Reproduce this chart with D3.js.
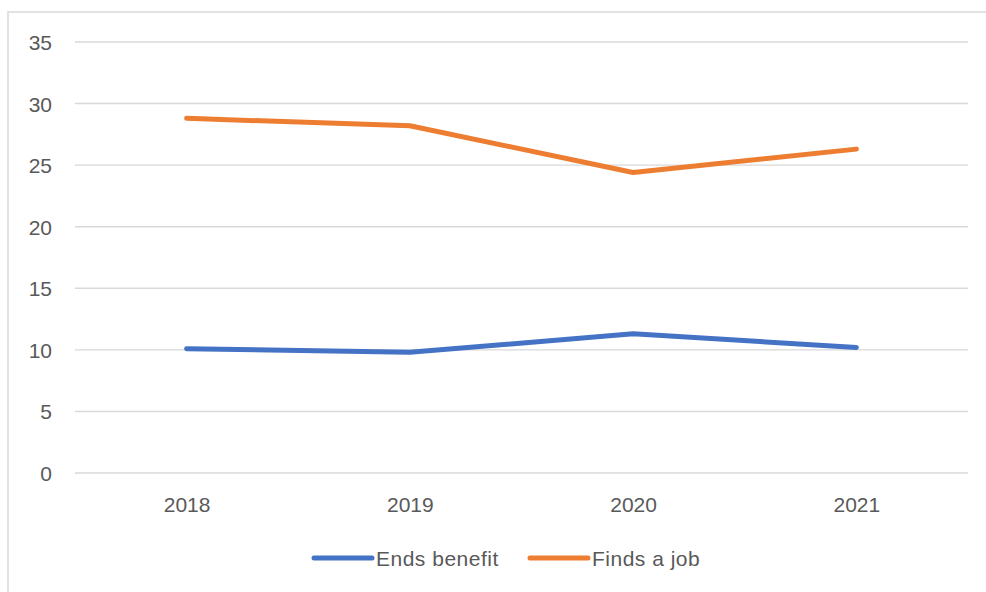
<!DOCTYPE html>
<html>
<head>
<meta charset="utf-8">
<script src="https://cdn.jsdelivr.net/npm/d3@7"></script>
<style>
  html, body { margin: 0; padding: 0; background: #fff; }
  svg { display: block; }
  text { font-family: "Liberation Sans", Arial, sans-serif; fill: #595959; }
</style>
</head>
<body>
<svg id="chart" width="986" height="592"></svg>
<script>
// Data
const years = ["2018", "2019", "2020", "2021"];
const endsBenefit = [10.1, 9.8, 11.3, 10.2];
const findsJob = [28.8, 28.2, 24.4, 26.3];
const yTicks = [0, 5, 10, 15, 20, 25, 30, 35];
const seriesNames = ["Ends benefit", "Finds a job"];
const seriesColors = ["#4472C4", "#ED7D31"];

const series = [
  { name: seriesNames[0], values: endsBenefit, color: seriesColors[0] },
  { name: seriesNames[1], values: findsJob, color: seriesColors[1] }
];

const svg = d3.select("#chart");
const W = 986, H = 592;
const plot = { left: 75, right: 968, top: 42, bottom: 473 };

// chart area frame
svg.append("rect")
  .attr("x", 8).attr("y", 12)
  .attr("width", W + 20).attr("height", H + 20)
  .attr("fill", "#fff")
  .attr("stroke", "#d9d9d9")
  .attr("stroke-width", 1.5);

const x = d3.scalePoint()
  .domain(years)
  .range([plot.left, plot.right])
  .padding(0.5);

const y = d3.scaleLinear()
  .domain([0, 35])
  .range([plot.bottom, plot.top]);

// horizontal gridlines
svg.append("g")
  .selectAll("line")
  .data(yTicks)
  .join("line")
  .attr("x1", plot.left).attr("x2", plot.right)
  .attr("y1", d => y(d)).attr("y2", d => y(d))
  .attr("stroke", "#d9d9d9")
  .attr("stroke-width", 1.4);

// y axis labels
const yAxis = d3.axisLeft(y).tickValues(yTicks).tickSize(0).tickPadding(0);
svg.append("g")
  .attr("transform", `translate(52,0)`)
  .call(yAxis)
  .call(g => g.select(".domain").remove())
  .call(g => g.selectAll("text")
    .attr("font-size", 21)
    .attr("font-family", "Liberation Sans, Arial, sans-serif")
    .attr("fill", "#595959")
    .attr("dy", "0.36em"));

// x axis labels
const xAxis = d3.axisBottom(x).tickSize(0).tickPadding(0);
svg.append("g")
  .attr("transform", `translate(0,${plot.bottom})`)
  .call(xAxis)
  .call(g => g.select(".domain").remove())
  .call(g => g.selectAll("text")
    .attr("font-size", 21)
    .attr("font-family", "Liberation Sans, Arial, sans-serif")
    .attr("fill", "#595959")
    .attr("y", 0)
    .attr("dy", 39));

// series lines
const line = d3.line()
  .x((d, i) => x(years[i]))
  .y(d => y(d));

svg.append("g")
  .selectAll("path")
  .data(series)
  .join("path")
  .attr("d", d => line(d.values))
  .attr("fill", "none")
  .attr("stroke", d => d.color)
  .attr("stroke-width", 5)
  .attr("stroke-linecap", "round")
  .attr("stroke-linejoin", "round");

// legend
const legendItems = [
  { name: seriesNames[0], color: seriesColors[0], x: 314 },
  { name: seriesNames[1], color: seriesColors[1], x: 530 }
];
const lg = svg.append("g").selectAll("g")
  .data(legendItems)
  .join("g")
  .attr("transform", d => `translate(${d.x},558)`);
lg.append("line")
  .attr("x1", 0).attr("x2", 58)
  .attr("y1", 0).attr("y2", 0)
  .attr("stroke", d => d.color)
  .attr("stroke-width", 5)
  .attr("stroke-linecap", "round");
lg.append("text")
  .attr("x", 62)
  .attr("y", 7.5)
  .attr("font-size", 21)
  .attr("letter-spacing", 0.5)
  .text(d => d.name);
</script>
</body>
</html>
